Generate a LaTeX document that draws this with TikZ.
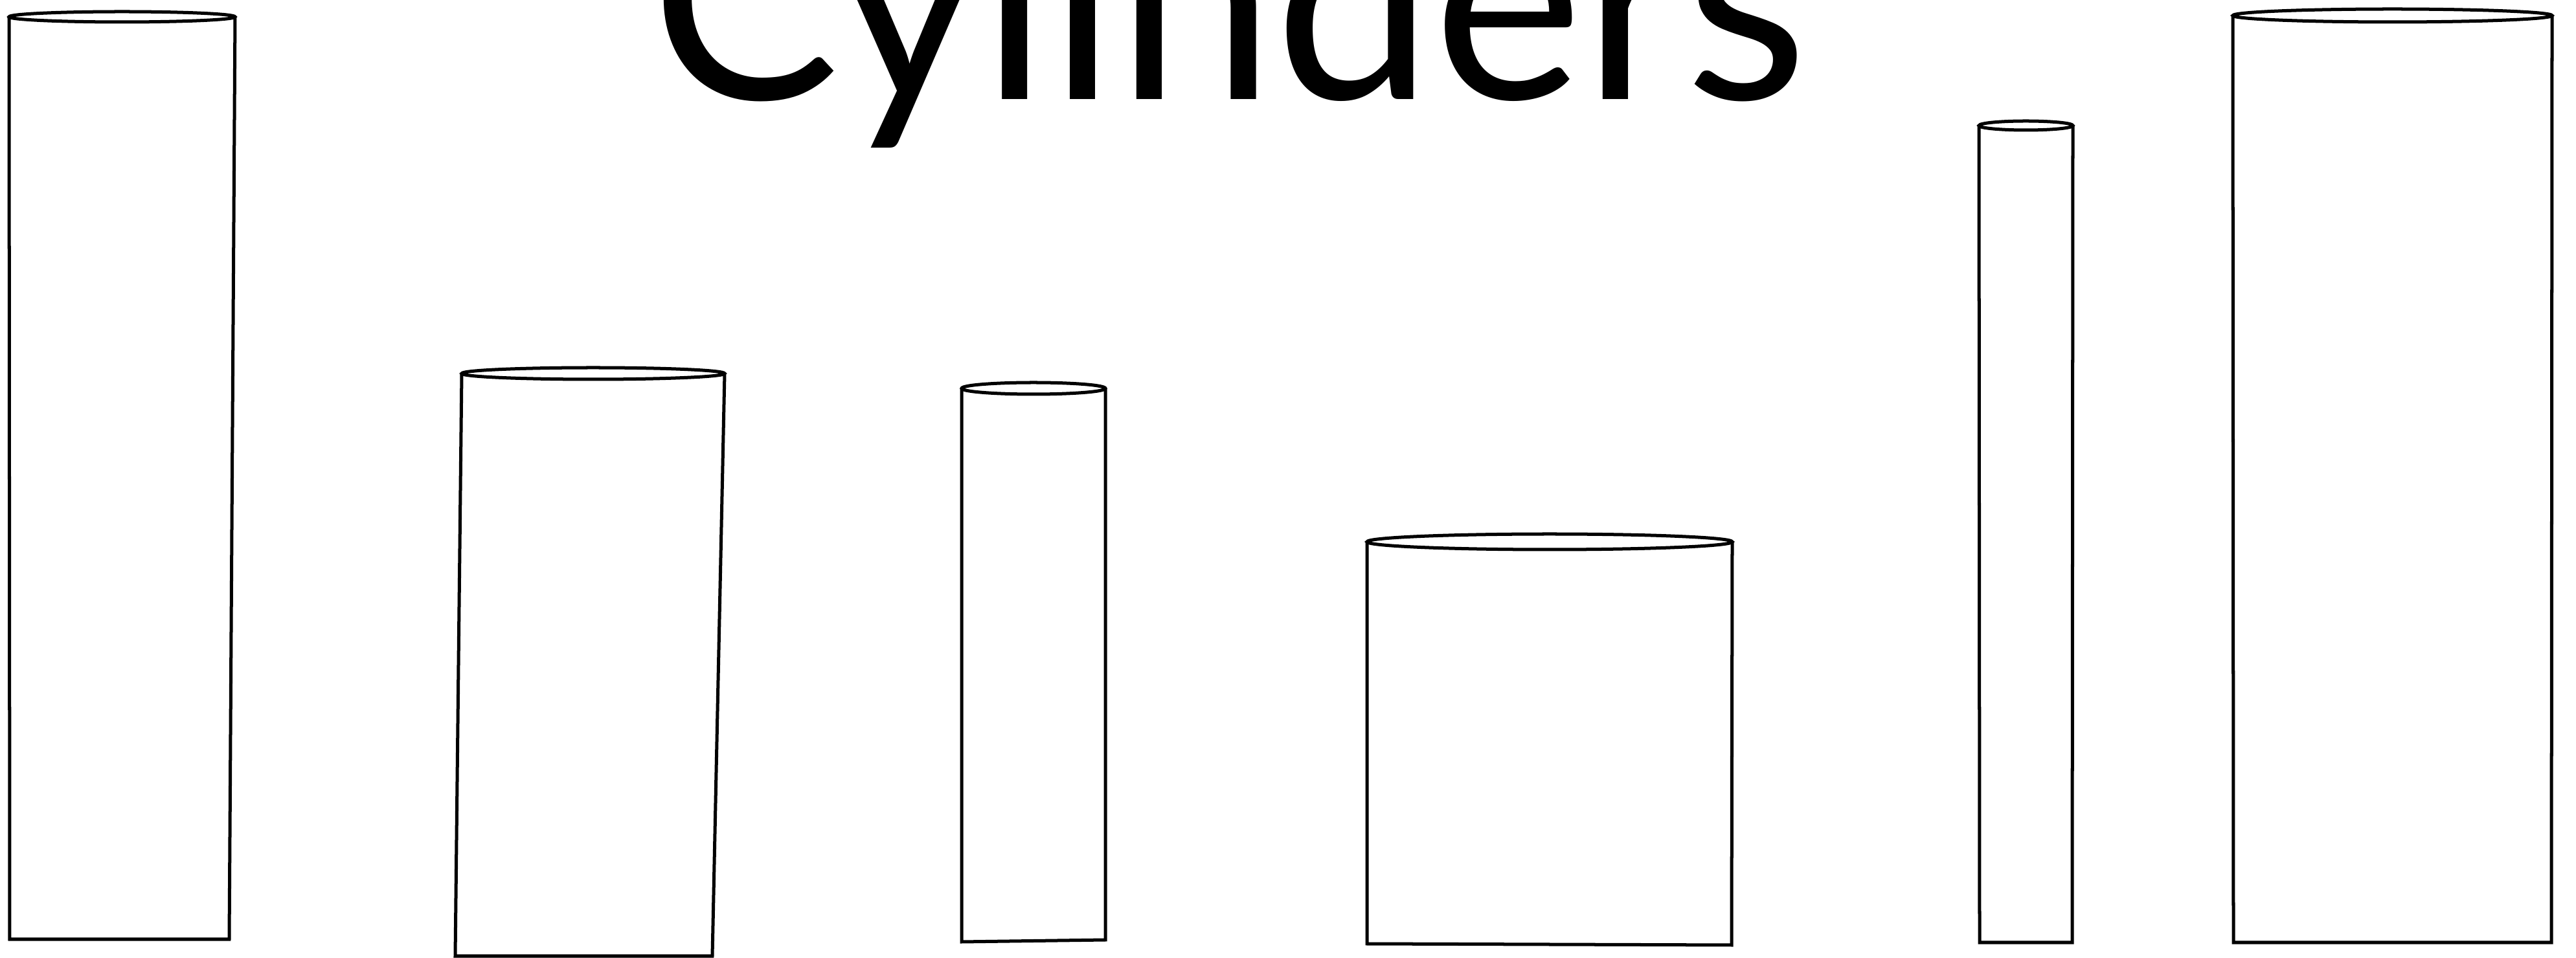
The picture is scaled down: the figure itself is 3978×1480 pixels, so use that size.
\documentclass[tikz,border=0pt]{standalone}
\usepackage{fontspec}
\newfontfamily\titlefont{Lato}
\usetikzlibrary{calc}
\tikzset{cylline/.style={line width=0.05cm, draw=black, line join=miter}}
\newcommand\mycyl[9]{%
  \coordinate (#1tl) at (#2,#4);
  \coordinate (#1tr) at (#3,#4);
  \coordinate (#1bl) at (#6,#8);
  \coordinate (#1br) at (#7,#9);
  \draw[cylline] (#1tl) -- (#1bl) -- (#1br) -- (#1tr);
  \draw[cylline] ($(#1tl)!0.5!(#1tr)$) ellipse [x radius={(#3-#2)/2}, y radius=#5];
}
\begin{document}
\begin{tikzpicture}[x=0.01cm,y=-0.01cm]
\useasboundingbox (0,0) rectangle (3978,1480);
\clip (0,0) rectangle (3978,1480);
\node[anchor=base, inner sep=0pt, font=\titlefont\fontsize{124.5}{124.5}\selectfont] (title) at (1898,154) {Cylinders};
\mycyl{a}{14}{363}{26}{8}{15}{354}{1451}{1451}
\mycyl{b}{713}{1119}{577}{9}{703}{1100}{1477}{1477}
\mycyl{c}{1485}{1707}{600}{9}{1485}{1707}{1455}{1452}
\mycyl{d}{2111}{2675}{837}{12}{2111}{2674}{1458}{1460}
\mycyl{e}{3056}{3201}{194}{7}{3057}{3200}{1456}{1456}
\mycyl{f}{3448}{3941}{24}{10}{3449}{3940}{1456}{1456}
\end{tikzpicture}
\end{document}
